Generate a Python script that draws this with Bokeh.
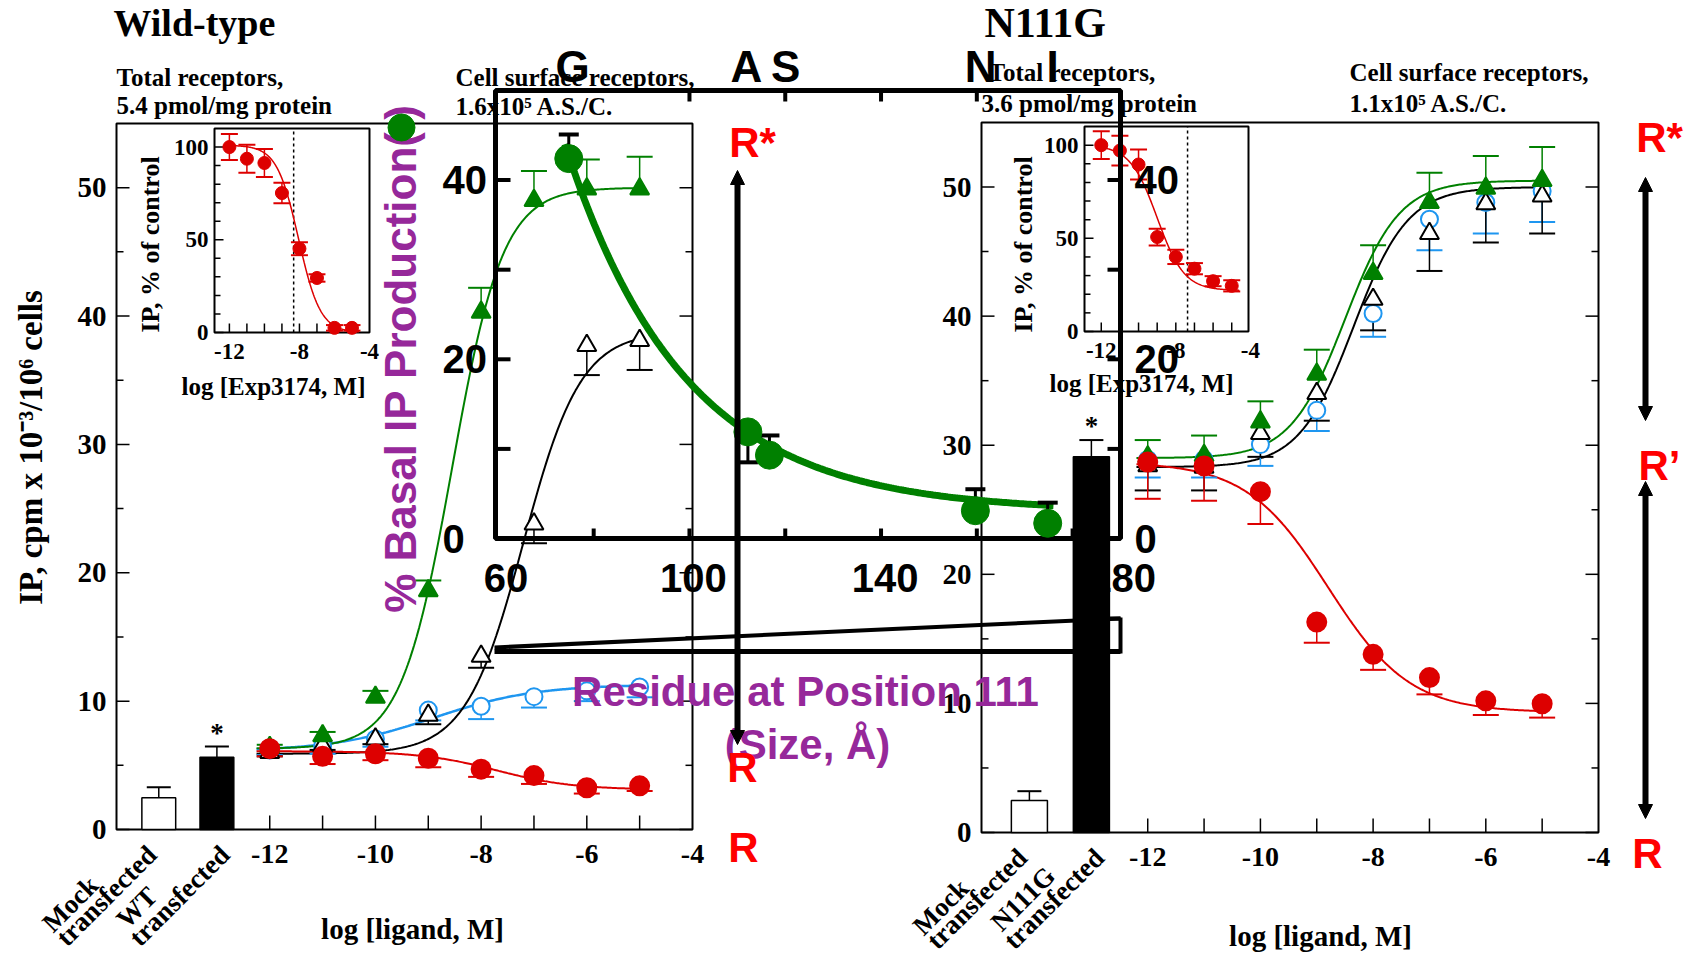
import numpy as np
from bokeh.plotting import figure
from bokeh.models import Range1d, Arrow, NormalHead
from bokeh.core.properties import value
from bokeh.embed import file_html
from bokeh.resources import INLINE

PI = np.pi

# ===================== DATA =====================
log_ligand = [-12, -11, -10, -9, -8, -7, -6, -5]

# Wild-type panel: IP, cpm x 10^-3 / 10^6 cells
wt_red = [6.3, 5.7, 5.9, 5.55, 4.7, 4.2, 3.25, 3.4]
wt_red_err = [0.6, 0.6, 0.5, 0.7, 0.6, 0.65, 0.45, 0.4]
wt_blue = [6.2, 6.5, 7.05, 9.3, 9.6, 10.35, 10.8, 11.1]
wt_blue_err = [0.4, 0.6, 0.6, 0.8, 1.0, 0.85, 0.8, 0.8]
wt_black = [6.0, 6.5, 7.05, 8.9, 13.5, 23.8, 37.7, 38.1]
wt_black_err = [0.3, 0.3, 0.4, 0.7, 0.9, 1.5, 2.3, 2.3]
wt_green = [6.4, 7.3, 10.3, 18.6, 40.3, 49.0, 49.9, 49.9]
wt_green_err = [0.2, 0.3, 0.5, 0.8, 1.9, 2.3, 2.3, 2.5]

# N111G panel
n_red = [28.7, 28.4, 26.4, 16.3, 13.8, 12.0, 10.2, 9.97]
n_red_err = [2.85, 2.7, 2.5, 1.6, 1.2, 1.3, 1.1, 1.07]
n_blue = [28.9, 28.9, 30.05, 32.7, 40.2, 47.5, 48.8, 49.7]
n_blue_err = [1.4, 1.4, 1.65, 1.6, 1.8, 2.4, 2.4, 2.4]
n_black = [28.4, 28.3, 30.9, 34.0, 41.3, 46.4, 48.7, 49.3]
n_black_err = [1.9, 1.8, 1.8, 2.1, 2.4, 2.9, 3.0, 2.9]
n_green = [29.1, 29.2, 31.8, 35.5, 43.3, 48.8, 49.9, 50.5]
n_green_err = [1.3, 1.55, 1.6, 1.9, 2.2, 2.3, 2.5, 2.6]

# basal bars (Mock, receptor-transfected)
bar_pos = [-14.1, -13.0]
wt_bars = [2.47, 5.63]
wt_bars_err = [0.83, 0.83]
n_bars = [2.48, 29.1]
n_bars_err = [0.72, 1.3]
wt_bar_names = [["Mock", "transfected"], ["WT", "transfected"]]
n_bar_names = [["Mock", "transfected"], ["N111G", "transfected"]]

# insets: IP, % of control vs log [Exp3174, M]
inset_log = [-12, -11, -10, -9, -8, -7, -6, -5]
wt_inset = [100, 93.7, 91.4, 75.2, 45.2, 29.4, 2.5, 2.5]
wt_inset_err = [7, 7.5, 7.5, 5.5, 3.5, 2, 1.5, 1.5]
n_inset = [100, 97.1, 89.6, 50.7, 40, 33.7, 27, 24.5]
n_inset_err = [7.5, 8, 8, 4.5, 3.8, 3, 2.7, 3]
wt_inset_ic50 = -8.33
n_inset_ic50 = -7.37

# overlay: % basal IP production vs residue at position 111
residues = ["G", "A", "S", "N", "I"]
residue_size = [74.8, 112.2, 116.7, 159.7, 174.8]
basal_pct = [42.4, 11.9, 9.3, 3.1, 1.7]
basal_lo = [42.4, 8.5, 9.3, 3.1, 1.7]
basal_hi = [45.1, 11.3, 11.5, 5.5, 4.0]
residue_label_x = [75.6, 111.9, 120.1, 160.8, 175.8]

# fitted curves: (value at -inf, value at +inf, log midpoint, slope)
wt_fit_red = (6.1, 3.1, -7.7, 0.6)
wt_fit_blue = (6.1, 11.3, -8.9, 0.45)
wt_fit_black = (5.9, 38.8, -7.2, 0.8)
wt_fit_green = (6.3, 50.0, -8.55, 0.9)
n_fit_red = (28.7, 9.3, -8.8, 0.6)
n_fit_black = (28.3, 50.0, -8.35, 0.9)
n_fit_green = (29.0, 50.5, -8.5, 0.9)
wt_inset_fit = (101, 0, -8.05, 0.7)
n_inset_fit = (100, 22, -9.0, 0.6)
basal_fit = (3.0, 39.4, 0.0402, 75.0)   # plateau, amplitude, decay, start

# ===================== STYLE =====================
RED, GREEN, BLUE, BLACK = "#DD0000", "#008000", "#1E96F0", "black"
PURPLE = "#96289A"
SERIF = value("Liberation Serif")
SANS = value("Liberation Sans")

W, H = 1690, 957
p = figure(width=W, height=H, x_range=Range1d(0, W), y_range=Range1d(H, 0),
           output_backend="svg", toolbar_location=None, tools="",
           min_border=0, x_axis_location=None, y_axis_location=None,
           outline_line_color=None, background_fill_color="white",
           border_fill_color="white")
p.xgrid.visible = False
p.ygrid.visible = False

PANELS = {}
xr_map, yr_map = {}, {}


def add_panel(name, left, right, top, bottom, xlo, xhi, ylo, yhi):
    sx = (right - left) / (xhi - xlo)
    sy = (bottom - top) / (yhi - ylo)
    xr_map[name] = Range1d(xlo - left / sx, xlo + (W - left) / sx)
    yr_map[name] = Range1d(ylo - (H - bottom) / sy, ylo + bottom / sy)
    PANELS[name] = dict(sx=sx, sy=sy, x=(xlo, xhi), y=(ylo, yhi))


add_panel("wt", 116, 692, 123, 829, -14.9, -4.0, 0, 55)
add_panel("n", 981, 1598, 122, 832, -14.95, -4.0, 0, 55)
add_panel("wti", 214, 369, 128, 332, -12.85, -4.0, 0, 110)
add_panel("ni", 1084, 1248, 126, 331, -12.9, -4.1, 0, 110)
add_panel("ov", 495, 1120, 90, 538, 59.5, 190.0, 0, 50)
p.extra_x_ranges = xr_map
p.extra_y_ranges = yr_map


def kw(name):
    return dict(x_range_name=name, y_range_name=name) if name else {}


def fit_curve(x, params):
    a, b, c, h = params
    x = np.asarray(x, dtype=float)
    return a + (b - a) / (1.0 + 10.0 ** (h * (c - x)))


def txt(name, x, y, t, size, font=SERIF, align="center", baseline="middle",
        color="black", angle=0.0, dx=0, style="bold"):
    p.text(x=x, y=y, text=t, text_font=font, text_font_size=f"{size}px",
           text_font_style=style, text_align=align, text_baseline=baseline,
           text_color=color, angle=angle, x_offset=dx, **kw(name))


def ticks(name, xs, ys, angle, length, lw=1.5):
    p.ray(x=xs, y=ys, length=length, length_units="screen", angle=angle,
          line_color="black", line_width=lw, **kw(name))


def err_bars(name, xs, ys, errs, direction, color, cap, lw=1.5):
    ends = [y + direction * e for y, e in zip(ys, errs)]
    p.segment(x0=xs, y0=ys, x1=xs, y1=ends, line_color=color, line_width=lw, **kw(name))
    p.scatter(x=xs, y=ends, marker="dash", size=cap, line_color=color,
              line_width=lw + 0.5, **kw(name))


# ===================== MAIN PANELS =====================
def draw_main(name, series, bars, bars_err, bar_names, curve_span):
    P = PANELS[name]
    k = kw(name)
    xlo, xhi = P["x"]
    ylo, yhi = P["y"]
    sx, sy = P["sx"], P["sy"]
    # frame & ticks
    p.quad(left=[xlo], right=[xhi], bottom=[ylo], top=[yhi], fill_color=None,
           line_color="black", line_width=2, **k)
    major = [0, 10, 20, 30, 40, 50]
    minor = [5, 15, 25, 35, 45]
    ticks(name, [xlo] * len(major), major, 0, 13)
    ticks(name, [xlo] * len(minor), minor, 0, 7)
    ticks(name, [xhi] * len(major), major, PI, 13)
    ticks(name, [xhi] * len(minor), minor, PI, 7)
    ticks(name, log_ligand, [ylo] * len(log_ligand), PI / 2, 14)
    # tick labels
    txt(name, [xlo - 10 / sx] * len(major), major, [str(v) for v in major], 29,
        align="right")
    xt = [-12, -10, -8, -6, -4]
    txt(name, xt, [ylo - 24 / sy] * len(xt), [str(v) for v in xt], 28)
    # bars
    p.vbar(x=bar_pos, top=bars, bottom=0, width=0.64, fill_color=["white", "black"],
           line_color="black", line_width=1.5, **k)
    err_bars(name, bar_pos, bars, bars_err, 1, "black", 24)
    txt(name, [bar_pos[1]], [bars[1] + bars_err[1] + 14 / sy], ["*"], 27)
    # bar category labels (rotated 45 deg)
    offs = [[(-112, 98), (-98, 112)], [(-96, 94), (-83, 112)]]
    for bx, lines, off in zip(bar_pos, bar_names, offs):
        for line, (dx, dy) in zip(lines, off):
            txt(name, [bx + dx / sx], [ylo - dy / sy], [line], 27, align="left",
                angle=PI / 4)
    # curves
    xc = np.linspace(curve_span[0], curve_span[1], 300)
    for s in series:
        if s.get("fit") is not None:
            p.line(xc, fit_curve(xc, s["fit"]), line_color=s["color"],
                   line_width=s.get("lw", 2), **k)
    for s in series:
        err_bars(name, log_ligand, s["y"], s["err"], s["dir"], s["color"], 26)
    for s in series:
        p.scatter(x=log_ligand, y=s["y"], marker=s["marker"], size=s["size"],
                  fill_color=s["fill"], line_color=s["color"], line_width=2, **k)


draw_main("wt", [
    dict(y=wt_blue, err=wt_blue_err, dir=-1, color=BLUE, fill="white", marker="circle",
         size=17, fit=wt_fit_blue, lw=2.5),
    dict(y=wt_black, err=wt_black_err, dir=-1, color=BLACK, fill="white",
         marker="triangle", size=19, fit=wt_fit_black),
    dict(y=wt_green, err=wt_green_err, dir=1, color=GREEN, fill=GREEN,
         marker="triangle", size=19, fit=wt_fit_green),
    dict(y=wt_red, err=wt_red_err, dir=-1, color=RED, fill=RED, marker="circle",
         size=19, fit=wt_fit_red),
], wt_bars, wt_bars_err, wt_bar_names, (-12.25, -5.0))

draw_main("n", [
    dict(y=n_blue, err=n_blue_err, dir=-1, color=BLUE, fill="white", marker="circle",
         size=17, fit=None),
    dict(y=n_black, err=n_black_err, dir=-1, color=BLACK, fill="white",
         marker="triangle", size=19, fit=n_fit_black),
    dict(y=n_green, err=n_green_err, dir=1, color=GREEN, fill=GREEN,
         marker="triangle", size=19, fit=n_fit_green),
    dict(y=n_red, err=n_red_err, dir=-1, color=RED, fill=RED, marker="circle",
         size=19, fit=n_fit_red),
], n_bars, n_bars_err, n_bar_names, (-12.2, -4.9))


# ===================== INSETS =====================
def draw_inset(name, yv, ye, fit, ic50):
    P = PANELS[name]
    k = kw(name)
    xlo, xhi = P["x"]
    ylo, yhi = P["y"]
    sx, sy = P["sx"], P["sy"]
    p.quad(left=[xlo], right=[xhi], bottom=[ylo], top=[yhi], fill_color="white",
           line_color="black", line_width=2, **k)
    major = [0, 50, 100]
    minor = [10, 20, 30, 40, 60, 70, 80, 90]
    ticks(name, [xlo] * 3, major, 0, 9)
    ticks(name, [xlo] * len(minor), minor, 0, 6)
    ticks(name, inset_log, [ylo] * len(inset_log), PI / 2, 9)
    txt(name, [xlo - 6 / sx] * 3, major, [str(v) for v in major], 23, align="right")
    xt = [-12, -8, -4]
    txt(name, xt, [ylo - 19 / sy] * 3, [str(v) for v in xt], 23)
    p.line([ic50, ic50], [ylo, yhi], line_color="black", line_width=1.5,
           line_dash="3 3", **k)
    xc = np.linspace(-12.0, -4.6, 200)
    p.line(xc, fit_curve(xc, fit), line_color=RED, line_width=1.5, **k)
    err_bars(name, inset_log, yv, ye, 1, RED, 17)
    err_bars(name, inset_log, yv, ye, -1, RED, 17)
    p.scatter(x=inset_log, y=yv, marker="circle", size=13, fill_color=RED,
              line_color=RED, **k)


draw_inset("wti", wt_inset, wt_inset_err, wt_inset_fit, wt_inset_ic50)
draw_inset("ni", n_inset, n_inset_err, n_inset_fit, n_inset_ic50)

# ===================== OVERLAY (residue size) =====================
P = PANELS["ov"]
k = kw("ov")
oxlo, oxhi = P["x"]
oylo, oyhi = P["y"]
osx, osy = P["sx"], P["sy"]
p.quad(left=[oxlo], right=[oxhi], bottom=[oylo], top=[oyhi], fill_color=None,
       line_color="black", line_width=5, **k)
oy_ticks = [10, 20, 30, 40]
ticks("ov", [oxlo] * 4, oy_ticks, 0, 15, lw=4)
ticks("ov", [oxhi] * 4, oy_ticks, PI, 13, lw=4)
ticks("ov", [80, 100, 120, 140, 160, 180], [oylo] * 6, PI / 2, 10, lw=4)
ticks("ov", [100, 120, 140, 160], [oyhi] * 4, -PI / 2, 11, lw=4)
oy_lab = [0, 20, 40]
txt("ov", [oxlo - 53 / osx] * 3, oy_lab, [str(v) for v in oy_lab], 40, font=SANS,
    align="left")
txt("ov", [oxhi + 14 / osx] * 3, oy_lab, [str(v) for v in oy_lab], 40, font=SANS,
    align="left")
ox_lab = [60, 100, 140, 180]
txt("ov", ox_lab, [oylo - 39 / osy] * 4, [str(v) for v in ox_lab], 40, font=SANS,
    dx=[8, 4, 4, 50])
txt("ov", residue_label_x, [oyhi + 24 / osy] * 5, residues, 44, font=SANS)
xc = np.linspace(74.0, 176.0, 200)
c0, amp, kd, xs0 = basal_fit
p.line(xc, c0 + amp * np.exp(-kd * (xc - xs0)), line_color=GREEN, line_width=7, **k)
p.segment(x0=residue_size, y0=basal_lo, x1=residue_size, y1=basal_hi,
          line_color="black", line_width=3, **k)
p.scatter(x=residue_size, y=basal_hi, marker="dash", size=20, line_color="black",
          line_width=4, **k)
p.scatter(x=residue_size, y=basal_lo, marker="dash", size=20, line_color="black",
          line_width=4, **k)
p.scatter(x=residue_size, y=basal_pct, marker="circle", size=28, fill_color=GREEN,
          line_color=GREEN, **k)

# connector wedge
p.multi_line(xs=[[494, 1120], [494, 1120], [1120, 1120], [1106, 1120]],
             ys=[[647, 618], [651, 651], [617, 653], [618, 618]],
             line_color="black", line_width=[4, 5, 4, 4])

# ===================== PAGE TEXT =====================
txt(None, [113], [22], ["Wild-type"], 38, align="left")
txt(None, [984], [22], ["N111G"], 42, align="left")
txt(None, [116, 116, 455, 455], [77, 105, 77, 106],
    ["Total receptors,", "5.4 pmol/mg protein", "Cell surface receptors,",
     "1.6x10\u2075 A.S./C."], 25, align="left")
txt(None, [988, 981, 1349, 1349], [72, 103, 72, 103],
    ["Total receptors,", "3.6 pmol/mg protein", "Cell surface receptors,",
     "1.1x10\u2075 A.S./C."], 25, align="left")
txt(None, [30], [447], ["IP, cpm x 10\u207b\u00b3/10\u2076 cells"], 33, angle=PI / 2)
txt(None, [150, 1023], [244, 244], ["IP, % of control", "IP, % of control"], 26,
    angle=PI / 2)
txt(None, [273, 1141], [386, 383], ["log [Exp3174, M]", "log [Exp3174, M]"], 25)
txt(None, [412, 1320], [928, 935], ["log [ligand, M]", "log [ligand, M]"], 29)

# overlay titles (purple)
txt(None, [400], [352], ["% Basal IP Production(  )"], 44, font=SANS,
    angle=PI / 2, color=PURPLE)
p.scatter(x=[401], y=[127], marker="circle", size=27, fill_color=GREEN,
          line_color=GREEN)
txt(None, [805], [691], ["Residue at Position 111"], 42, font=SANS, color=PURPLE)
txt(None, [807], [744], ["(Size, \u00c5)"], 42, font=SANS, color=PURPLE)

# receptor state labels and arrows
for (x0, y0, x1, y1, lw) in [(737, 170, 737, 744, 6), (1645, 177, 1645, 420, 6),
                             (1645, 481, 1645, 818, 6)]:
    p.add_layout(Arrow(x_start=x0, y_start=y0, x_end=x1, y_end=y1, line_width=lw,
                       line_color="black",
                       start=NormalHead(size=14, fill_color="black", line_color="black"),
                       end=NormalHead(size=14, fill_color="black", line_color="black")))
txt(None, [752, 742, 743, 1659, 1659, 1647], [142, 767, 847, 137, 465, 853],
    ["R*", "R", "R", "R*", "R\u2019", "R"], 42, font=SANS, color="#FF0000")

open("out.html", "w").write(file_html(p, INLINE))
